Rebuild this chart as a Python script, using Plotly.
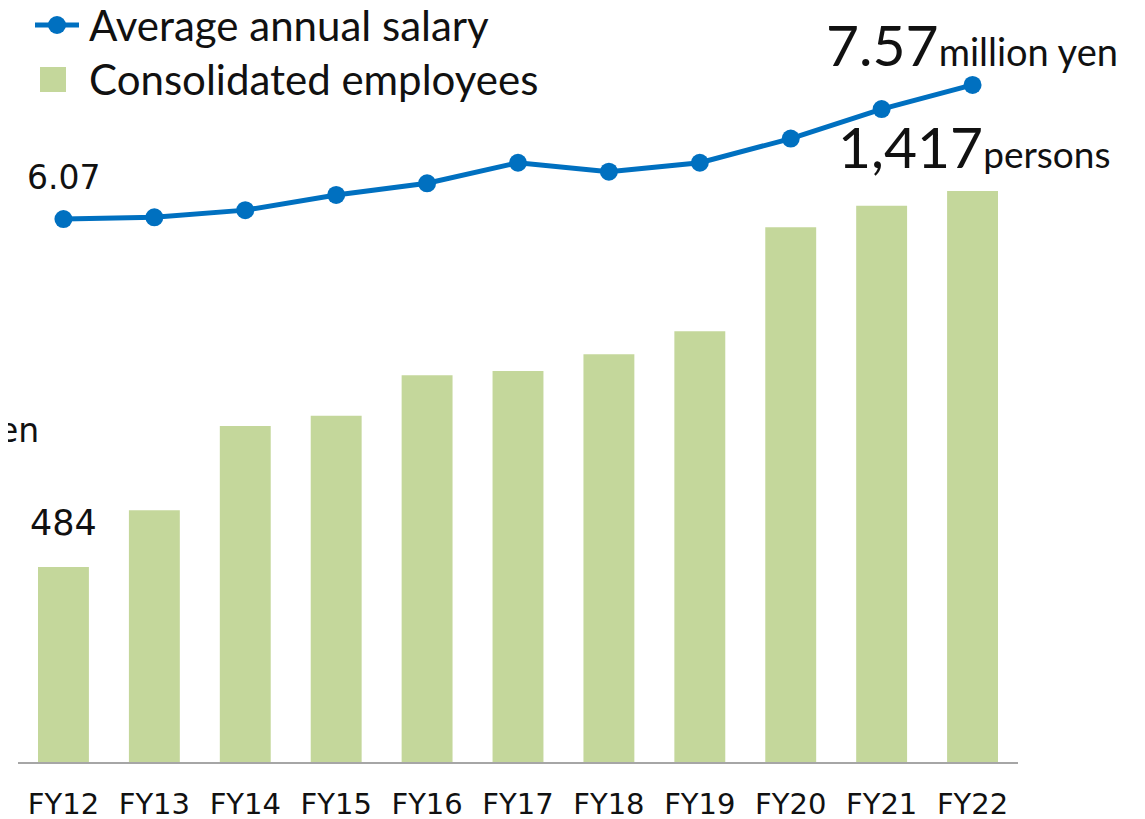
import plotly.graph_objects as go

categories = ["FY12", "FY13", "FY14", "FY15", "FY16", "FY17", "FY18", "FY19", "FY20", "FY21", "FY22"]
employees = [484, 625, 834, 859, 960, 970, 1012, 1069, 1327, 1380, 1417]
salary = [6.07, 6.09, 6.17, 6.34, 6.47, 6.70, 6.60, 6.70, 6.97, 7.30, 7.57]

BAR_COLOR = "#C4D79B"
LINE_COLOR = "#0070C0"
TEXT_FONT = "Lato"
NUM_FONT = "DejaVu Sans"
INK = "#111111"

OFF = 8  # page body margin
W, H = 1137, 811
ML, MT = 10, 0
PW, PH = 1000, 754
MR, MB = W - ML - PW, H - MT - PH

fig = go.Figure()
fig.add_trace(go.Bar(
    x=categories, y=employees, marker_color=BAR_COLOR, marker_line_width=0,
    name="Consolidated employees", yaxis="y", showlegend=False,
))
fig.add_trace(go.Scatter(
    x=categories, y=salary, mode="lines+markers", yaxis="y2",
    line=dict(color=LINE_COLOR, width=5), marker=dict(color=LINE_COLOR, size=18),
    name="Average annual salary", showlegend=False, cliponaxis=False,
))

fig.update_layout(
    width=W, height=H,
    margin=dict(l=ML, r=MR, t=MT, b=MB, autoexpand=False),
    plot_bgcolor="white", paper_bgcolor="white",
    bargap=0.44,
    xaxis=dict(
        showgrid=False, showline=True, linecolor="#A6A6A6", linewidth=1.5,
        ticks="outside", ticklen=15, tickcolor="rgba(0,0,0,0)",
        tickfont=dict(family=NUM_FONT, size=29, color=INK),
        range=[-0.5, 10.5], automargin=False,
    ),
    yaxis=dict(range=[0, 1871], visible=False, showgrid=False, automargin=False),
    yaxis2=dict(range=[0, 8.43], visible=False, overlaying="y", showgrid=False, automargin=False),
)

def px(p):
    return (p - OFF - ML) / PW

def py(p):
    return (PH - (p - OFF - MT)) / PH

# manual legend
fig.add_shape(type="line", xref="paper", yref="paper",
              x0=px(35), x1=px(79), y0=py(25), y1=py(25),
              line=dict(color=LINE_COLOR, width=5))
fig.add_shape(type="circle", xref="paper", yref="paper",
              x0=px(48), x1=px(66), y0=py(16), y1=py(34),
              fillcolor=LINE_COLOR, line=dict(width=0))
fig.add_shape(type="rect", xref="paper", yref="paper",
              x0=px(40), x1=px(66), y0=py(67), y1=py(92),
              fillcolor=BAR_COLOR, line=dict(width=0))
fig.add_annotation(xref="paper", yref="paper", x=px(88), y=py(25),
                   xanchor="left", yanchor="middle", showarrow=False, borderpad=0,
                   text="Average annual salary", font=dict(family=TEXT_FONT, size=42, color=INK))
fig.add_annotation(xref="paper", yref="paper", x=px(88), y=py(79),
                   xanchor="left", yanchor="middle", showarrow=False, borderpad=0,
                   text="Consolidated employees", font=dict(family=TEXT_FONT, size=42, color=INK))

# value labels
fig.add_annotation(x=categories[0], y=salary[0], yref="y2", yshift=42, showarrow=False,
                   text=f"{salary[0]:.2f}", font=dict(family=NUM_FONT, size=33, color=INK))
fig.add_annotation(x=categories[0], y=employees[0], yref="y", yshift=44, showarrow=False,
                   text=f"{employees[0]:,}", font=dict(family=NUM_FONT, size=35, color=INK))
fig.add_annotation(xref="paper", yref="paper", x=px(1120), y=py(44),
                   xanchor="right", yanchor="middle", showarrow=False,
                   text=f"<span style='font-size:57px'>{salary[-1]:.2f}</span>million yen",
                   font=dict(family=TEXT_FONT, size=38, color=INK))
fig.add_annotation(xref="paper", yref="paper", x=px(1113), y=py(146),
                   xanchor="right", yanchor="middle", showarrow=False,
                   text=f"<span style='font-size:57px'>{employees[-1]:,}</span>persons",
                   font=dict(family=TEXT_FONT, size=37, color=INK))
# left axis caption, cropped by the left edge in the reference
fig.add_annotation(xref="paper", yref="paper", x=px(41), y=py(430),
                   xanchor="right", yanchor="middle", showarrow=False,
                   text="million yen", font=dict(family=NUM_FONT, size=33, color=INK))

fig.write_html("out.html")
